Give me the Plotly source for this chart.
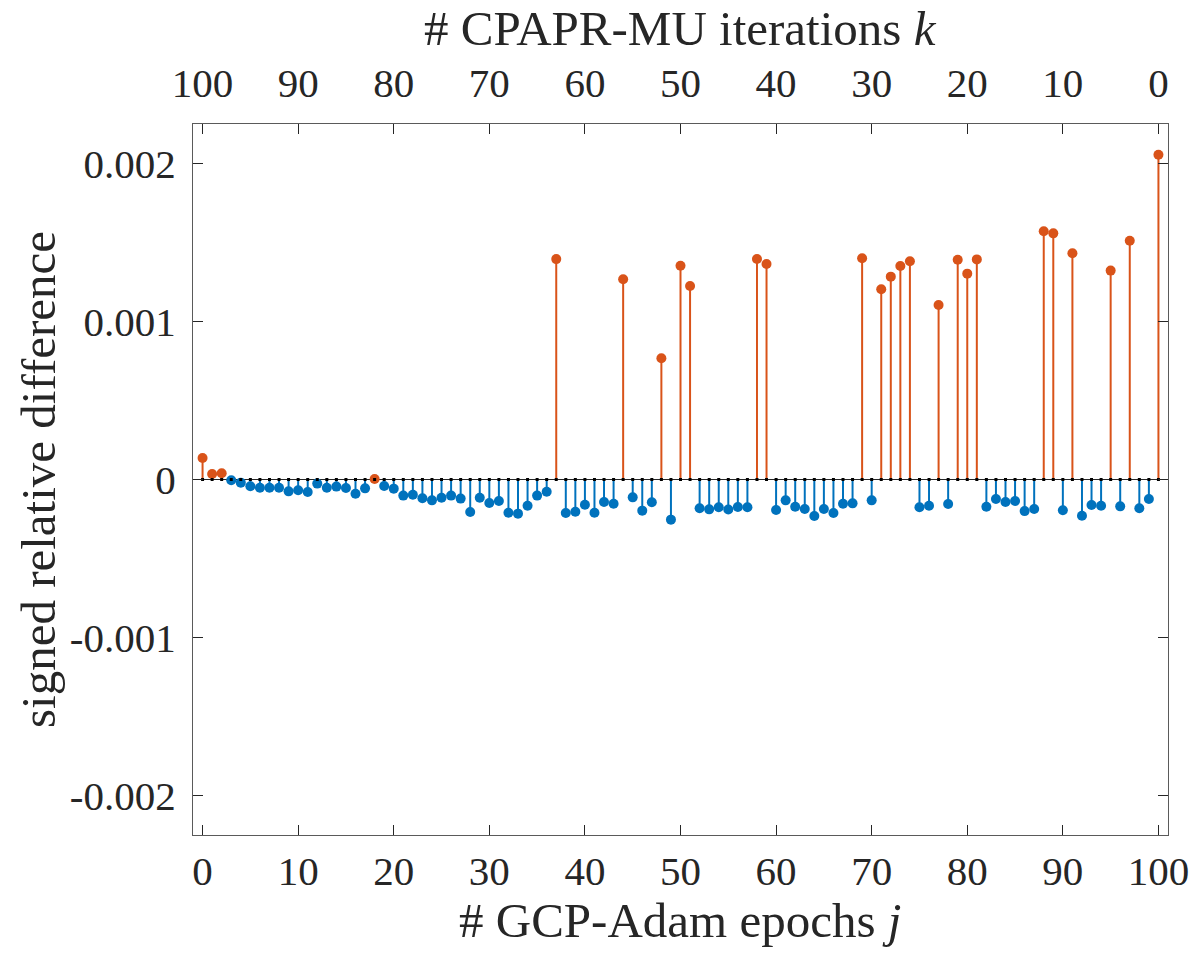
import plotly.graph_objects as go

# GCP-Adam epochs j
epochs = list(range(0, 101))
# signed relative difference
values = [
    0.000136, 0.000035, 0.000040, -0.000005, -0.000020, -0.000043, -0.000052, -0.000052, -0.000052, -0.000075,
    -0.000068, -0.000079, -0.000026, -0.000052, -0.000045, -0.000054, -0.000090, -0.000056, 0.000003, -0.000041,
    -0.000058, -0.000102, -0.000096, -0.000119, -0.000132, -0.000115, -0.000102, -0.000121, -0.000206, -0.000115,
    -0.000149, -0.000136, -0.000210, -0.000216, -0.000166, -0.000102, -0.000077, 0.001395, -0.000212, -0.000204,
    -0.000160, -0.000210, -0.000142, -0.000153, 0.001267, -0.000113, -0.000197, -0.000144, 0.000767, -0.000254,
    0.001353, 0.001225, -0.000182, -0.000189, -0.000176, -0.000190, -0.000174, -0.000176, 0.001396, 0.001364,
    -0.000193, -0.000132, -0.000172, -0.000187, -0.000231, -0.000187, -0.000212, -0.000153, -0.000151, 0.001400,
    -0.000132, 0.001204, 0.001284, 0.001351, 0.001381, -0.000176, -0.000166, 0.001104, -0.000155, 0.001391,
    0.001303, 0.001393, -0.000172, -0.000123, -0.000142, -0.000136, -0.000200, -0.000187, 0.001571, 0.001558,
    -0.000195, 0.001432, -0.000229, -0.000161, -0.000166, 0.001322, -0.000170, 0.001511, -0.000182, -0.000123,
    0.002055,
]
# CPAPR-MU iterations k (top axis)
iterations = [100 - j for j in epochs]

x_ticks = list(range(0, 101, 10))
y_ticks = [-0.002, -0.001, 0, 0.001, 0.002]
y_ticklabels = ["-0.002", "-0.001", "0", "0.001", "0.002"]

x_title = "# GCP-Adam epochs <i>j</i>"
x2_title = "# CPAPR-MU iterations <i>k</i>"
y_title = "signed relative difference"

BLUE = "#0072BD"
ORANGE = "#D95319"
AX = "#262626"
FONT = "Liberation Serif"
FS_TICK = 41
FS_TITLE = 49

W, H = 1195, 954
ML, MR, MT, MB = 193, 27, 124, 119
PW, PH = W - ML - MR, H - MT - MB


def stems(sel):
    xs, ys = [], []
    for j, v in zip(epochs, values):
        if sel(v):
            xs += [j, j, None]
            ys += [0, v, None]
    return xs, ys


fig = go.Figure()

# baseline
fig.add_shape(type="line", xref="x domain", yref="y", x0=0, x1=1, y0=0, y1=0,
              line=dict(color=AX, width=1.2), layer="below")

for sel, col in [(lambda v: v < 0, BLUE), (lambda v: v >= 0, ORANGE)]:
    sx, sy = stems(sel)
    fig.add_trace(go.Scatter(x=sx, y=sy, mode="lines", line=dict(color=col, width=2),
                             hoverinfo="skip", showlegend=False))
    px = [j for j, v in zip(epochs, values) if sel(v)]
    py = [v for v in values if sel(v)]
    fig.add_trace(go.Scatter(x=px, y=py, mode="markers",
                             marker=dict(color=col, size=10, line=dict(width=0)),
                             showlegend=False))

# small black markers on baseline
fig.add_trace(go.Scatter(x=epochs, y=[0] * len(epochs), mode="markers",
                         marker=dict(color="black", size=3, symbol="square", line=dict(width=0)),
                         hoverinfo="skip", showlegend=False))

# invisible trace to activate the top axis
fig.add_trace(go.Scatter(x=iterations, y=values, xaxis="x2", mode="markers",
                         marker=dict(opacity=0), hoverinfo="skip", showlegend=False))

axis_common = dict(showgrid=False, zeroline=False, showline=True, linecolor="#5a5a5a", linewidth=1.2,
                   ticks="inside", ticklen=10, tickwidth=1, tickcolor=AX, automargin=False,
                   tickfont=dict(family=FONT, size=FS_TICK, color=AX))
title_font = dict(family=FONT, size=FS_TITLE, color=AX)

fig.update_layout(
    width=W, height=H,
    margin=dict(l=ML, r=MR, t=MT, b=MB),
    plot_bgcolor="white", paper_bgcolor="white",
    font=dict(family=FONT, size=FS_TICK, color=AX),
    xaxis=dict(range=[-1, 101], tickvals=x_ticks, ticktext=[str(t) for t in x_ticks],
               ticklabelstandoff=0, **axis_common),
    xaxis2=dict(range=[101, -1], overlaying="x", side="top", tickvals=x_ticks,
                ticktext=[str(t) for t in x_ticks],
                ticklabelstandoff=10, **axis_common),
    yaxis=dict(range=[-0.00225, 0.00225], tickvals=y_ticks, ticktext=y_ticklabels, mirror="ticks",
               ticklabelstandoff=8, **axis_common),
)


def px_to_paper_x(px):
    return (px - ML) / PW


def px_to_paper_y(py):
    return (H - MB - py) / PH


fig.add_annotation(text=x_title, xref="paper", yref="paper", x=px_to_paper_x(680), y=px_to_paper_y(920),
                   xanchor="center", yanchor="middle", showarrow=False, font=title_font)
fig.add_annotation(text=x2_title, xref="paper", yref="paper", x=px_to_paper_x(680), y=px_to_paper_y(29),
                   xanchor="center", yanchor="middle", showarrow=False, font=title_font)
fig.add_annotation(text=y_title, xref="paper", yref="paper", x=px_to_paper_x(38), y=px_to_paper_y(480),
                   xanchor="center", yanchor="middle", showarrow=False, textangle=-90, font=title_font)

fig.write_html("out.html")
